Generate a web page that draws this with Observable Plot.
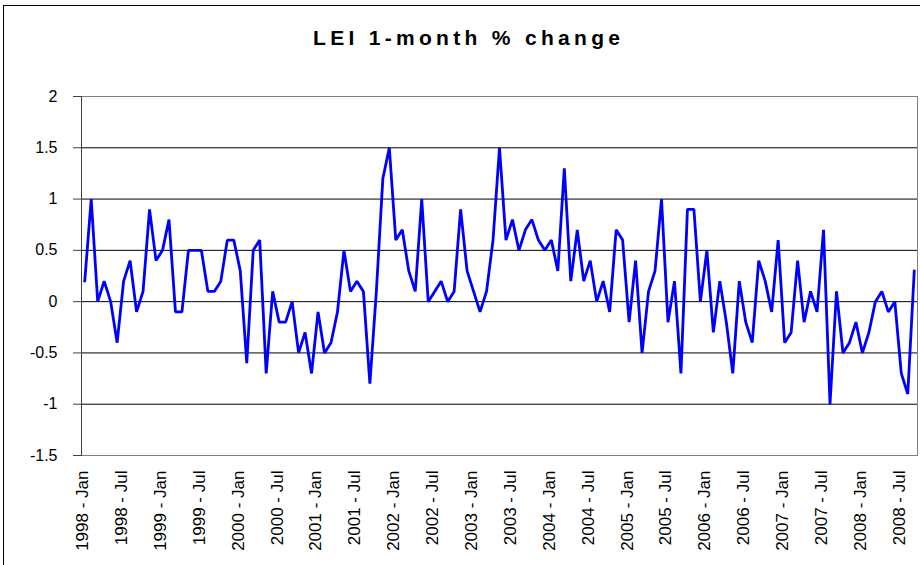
<!DOCTYPE html>
<html>
<head>
<meta charset="utf-8">
<script src="https://cdn.jsdelivr.net/npm/d3@7"></script>
<script src="https://cdn.jsdelivr.net/npm/@observablehq/plot@0.6"></script>
<style>
  html, body { margin: 0; padding: 0; background: #fff; }
  body { width: 920px; height: 565px; overflow: hidden; position: relative; font-family: "Liberation Sans", Arial, sans-serif; }
  #outer { position: absolute; left: 3px; top: 5px; width: 1000px; height: 1000px; border: 1px solid #000; box-sizing: border-box; }
  #title { position: absolute; left: 0; top: 27px; width: 933px; padding-left: 4.3px; box-sizing: border-box; text-align: center;
           font-size: 21px; line-height: 21px; font-weight: bold; letter-spacing: 4.3px; color: #000; }
  #chart { position: absolute; left: 0; top: 60px; }
</style>
</head>
<body>
<div id="outer"></div>
<div id="title">LEI 1-month % change</div>
<div id="chart"></div>
<script>
// Category labels: monthly, Jan 1998 – Sep 2008
const years = [1998, 1999, 2000, 2001, 2002, 2003, 2004, 2005, 2006, 2007, 2008];
const monthNames = ["Jan", "Feb", "Mar", "Apr", "May", "Jun", "Jul", "Aug", "Sep", "Oct", "Nov", "Dec"];
const lastYearMonths = 9; // 2008 runs Jan..Sep

// LEI 1-month % change
const values1998 = [0.2, 1.0, 0.0, 0.2, 0.0, -0.4, 0.2, 0.4, -0.1, 0.1, 0.9, 0.4];
const values1999 = [0.5, 0.8, -0.1, -0.1, 0.5, 0.5, 0.5, 0.1, 0.1, 0.2, 0.6, 0.6];
const values2000 = [0.3, -0.6, 0.5, 0.6, -0.7, 0.1, -0.2, -0.2, 0.0, -0.5, -0.3, -0.7];
const values2001 = [-0.1, -0.5, -0.4, -0.1, 0.5, 0.1, 0.2, 0.1, -0.8, 0.1, 1.2, 1.5];
const values2002 = [0.6, 0.7, 0.3, 0.1, 1.0, 0.0, 0.1, 0.2, 0.0, 0.1, 0.9, 0.3];
const values2003 = [0.1, -0.1, 0.1, 0.6, 1.5, 0.6, 0.8, 0.5, 0.7, 0.8, 0.6, 0.5];
const values2004 = [0.6, 0.3, 1.3, 0.2, 0.7, 0.2, 0.4, 0.0, 0.2, -0.1, 0.7, 0.6];
const values2005 = [-0.2, 0.4, -0.5, 0.1, 0.3, 1.0, -0.2, 0.2, -0.7, 0.9, 0.9, 0.0];
const values2006 = [0.5, -0.3, 0.2, -0.2, -0.7, 0.2, -0.2, -0.4, 0.4, 0.2, -0.1, 0.6];
const values2007 = [-0.4, -0.3, 0.4, -0.2, 0.1, -0.1, 0.7, -1.0, 0.1, -0.5, -0.4, -0.2];
const values2008 = [-0.5, -0.3, 0.0, 0.1, -0.1, 0.0, -0.7, -0.9, 0.3];

const yTicks = [-1.5, -1, -0.5, 0, 0.5, 1, 1.5, 2];
const xTickMonths = ["Jan", "Jul"];

const seriesByYear = [values1998, values1999, values2000, values2001, values2002, values2003,
                      values2004, values2005, values2006, values2007, values2008];

const categories = [];
years.forEach((y, yi) => {
  const n = yi === years.length - 1 ? lastYearMonths : 12;
  for (let m = 0; m < n; m++) categories.push(`${y} - ${monthNames[m]}`);
});
const values = seriesByYear.flat();
const data = categories.map((c, i) => ({month: c, value: values[i]}));
const xTicks = categories.filter(c => xTickMonths.some(m => c.endsWith(m)));

const chart = Plot.plot({
  width: 920,
  height: 505,
  marginLeft: 81,
  marginRight: 3,
  marginTop: 36,
  marginBottom: 110,
  style: {fontFamily: "'Liberation Sans', Arial, sans-serif", fontSize: "16px", color: "#000", background: "transparent", overflow: "visible"},
  x: {type: "point", domain: categories, padding: 0.5, label: null},
  y: {domain: [-1.5, 2], label: null},
  marks: [
    Plot.gridY(yTicks, {stroke: "#000", strokeOpacity: 1}),
    Plot.frame({stroke: "#808080"}),
    Plot.frame({anchor: "left", stroke: "#404040"}),
    Plot.axisY({ticks: yTicks, tickSize: 8, tickPadding: 16, tickFormat: d => String(d), stroke: "#404040", fontSize: 16}),
    Plot.axisX({ticks: xTicks, tickRotate: -90, tickSize: 0, tickPadding: 15, fontSize: 17, dx: -2}),
    Plot.line(data, {x: "month", y: "value", stroke: "#0000ff", strokeWidth: 2.8, strokeLinejoin: "miter"})
  ]
});
document.getElementById("chart").appendChild(chart);
</script>
</body>
</html>
